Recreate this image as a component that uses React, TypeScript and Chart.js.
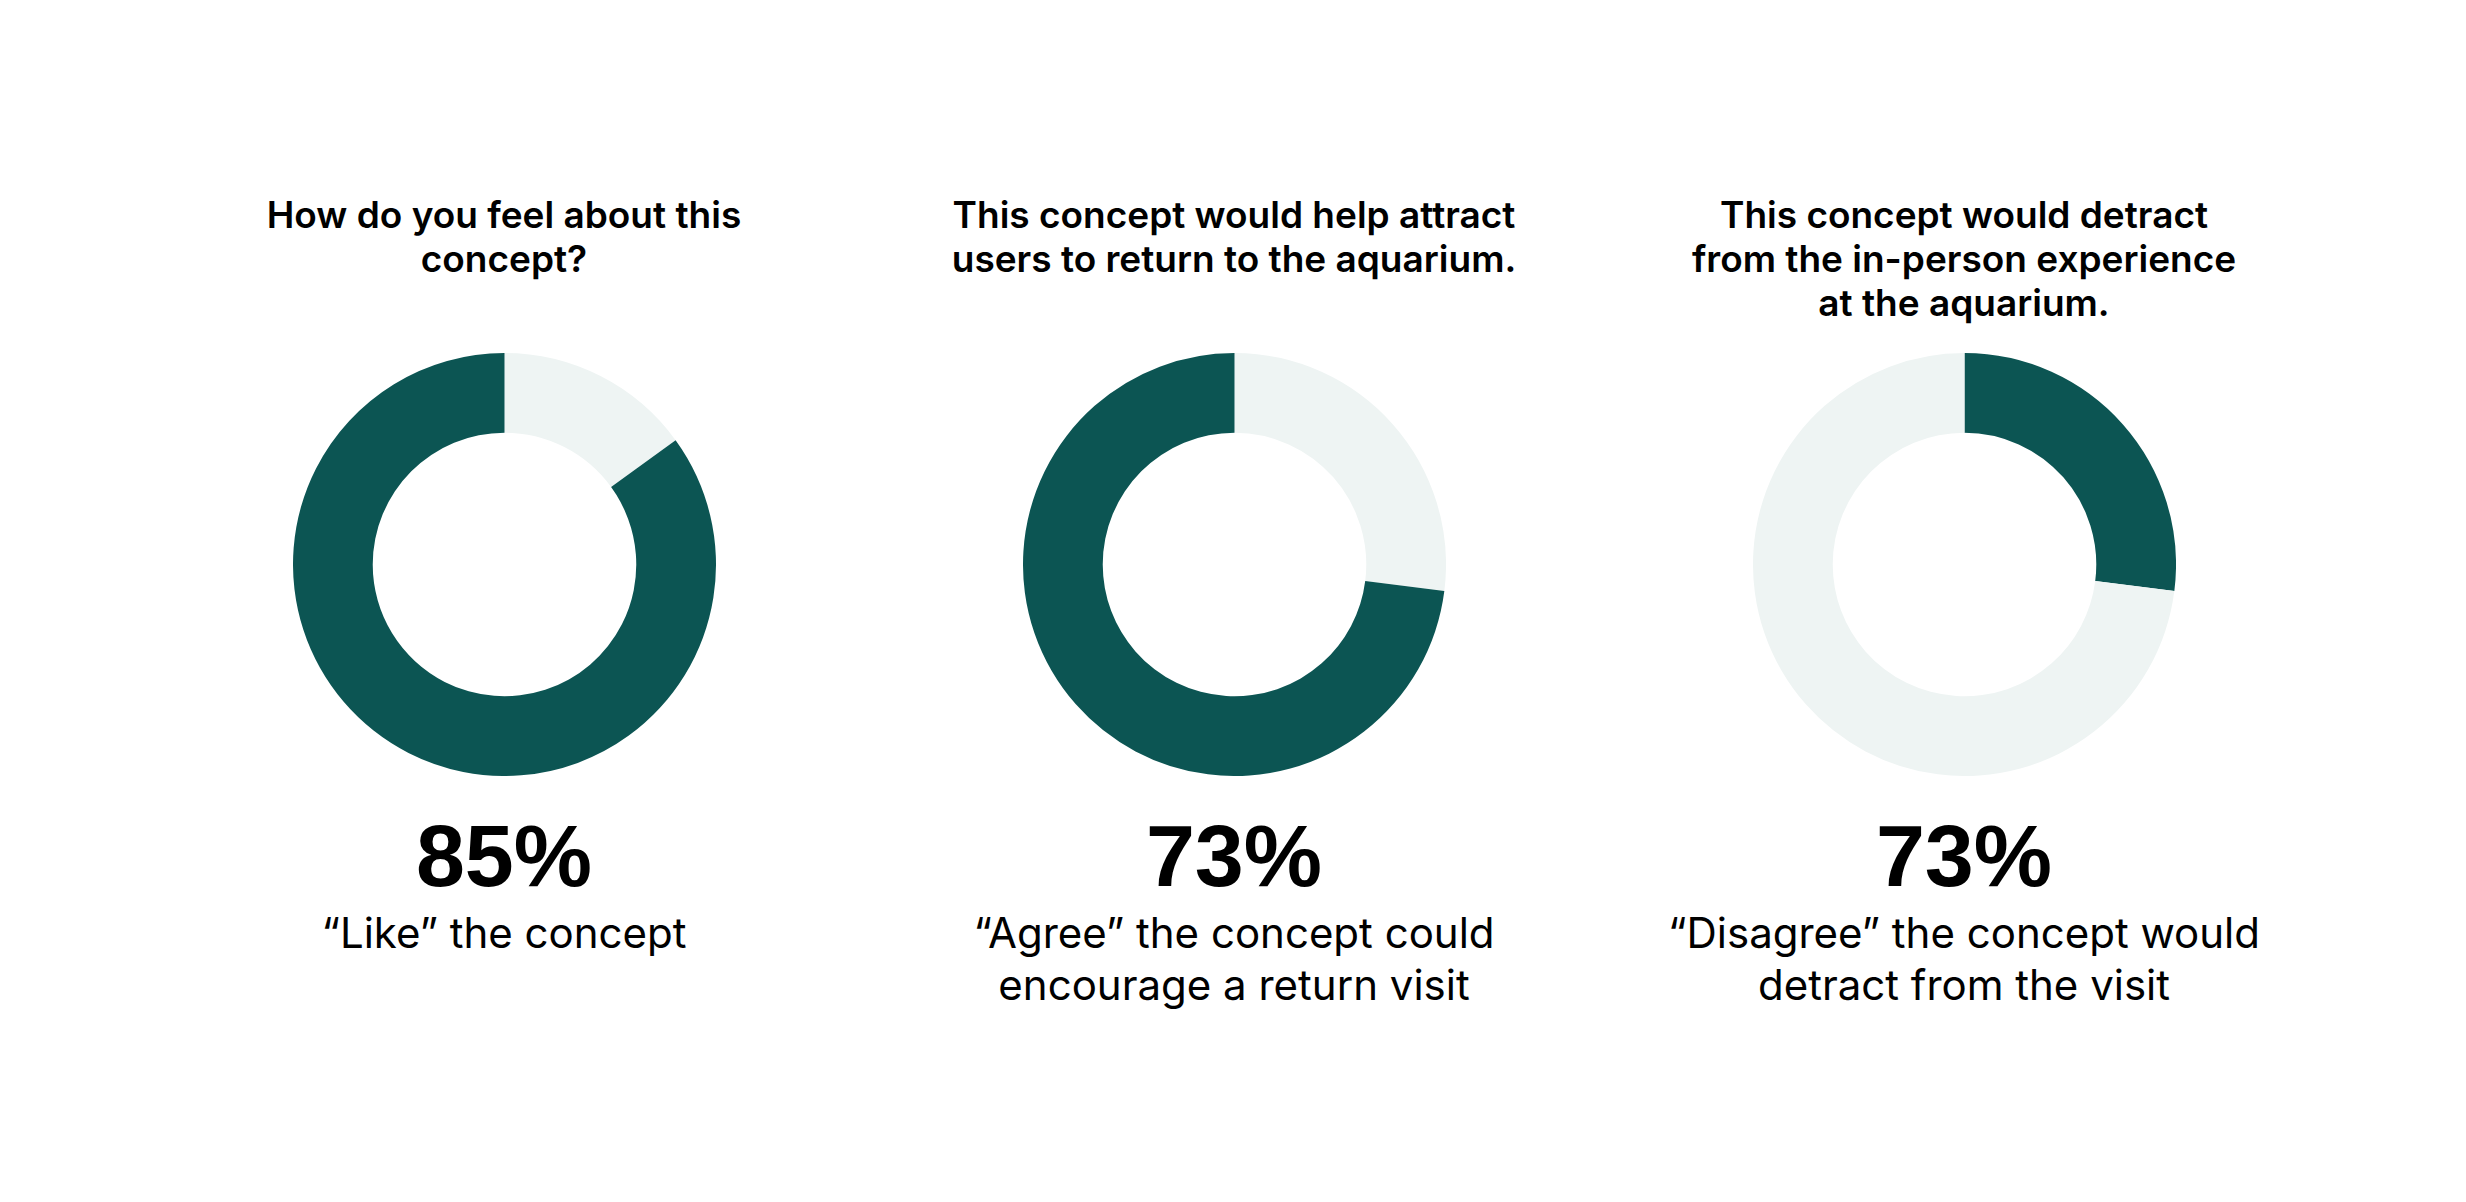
import React, { useEffect, useRef } from "react";
import { Chart, registerables } from "chart.js";

Chart.register(...registerables);

const DARK = "#0c5553";
const LIGHT = "#eef4f3";

const titles: string[][] = [
  ["How do you feel about this", "concept?"],
  ["This concept would help attract", "users to return to the aquarium."],
  ["This concept would detract", "from the in-person experience", "at the aquarium."],
];
const percentLabels = ["85%", "73%", "73%"];
const captions: string[][] = [
  ["\u201CLike\u201D the concept"],
  ["\u201CAgree\u201D the concept could", "encourage a return visit"],
  ["\u201CDisagree\u201D the concept would", "detract from the visit"],
];

const likeLabels = ["Other", "Like"];
const likeValues = [15, 85];
const likeColors = [LIGHT, DARK];

const returnLabels = ["Other", "Agree"];
const returnValues = [27, 73];
const returnColors = [LIGHT, DARK];

const detractLabels = ["Other", "Disagree"];
const detractValues = [27, 73];
const detractColors = [DARK, LIGHT];

const centersX = [504, 1234, 1964];
const CENTER_Y = 564;
const SIZE = 423;

function Donut({ labels, values, colors, cx }: { labels: string[]; values: number[]; colors: string[]; cx: number }) {
  const ref = useRef<HTMLCanvasElement | null>(null);
  useEffect(() => {
    if (!ref.current) return;
    const chart = new Chart(ref.current, {
      type: "doughnut",
      data: {
        labels,
        datasets: [
          {
            data: values,
            backgroundColor: colors,
            borderWidth: 0,
            hoverOffset: 0,
          },
        ],
      },
      options: {
        responsive: false,
        maintainAspectRatio: false,
        animation: false,
        cutout: "62.3%",
        layout: { padding: 0 },
        plugins: {
          legend: { display: false },
          tooltip: { enabled: false },
        },
      },
    });
    return () => chart.destroy();
  }, []);
  return (
    <canvas
      ref={ref}
      width={SIZE}
      height={SIZE}
      style={{
        position: "absolute",
        left: cx - SIZE / 2,
        top: CENTER_Y - SIZE / 2,
        width: SIZE,
        height: SIZE,
      }}
    />
  );
}

const textBase: React.CSSProperties = {
  position: "absolute",
  width: 800,
  textAlign: "center",
  fontFamily: "Inter, 'Noto Sans', sans-serif",
  color: "#000",
  whiteSpace: "nowrap",
};

export default function App() {
  const donuts = [
    { labels: likeLabels, values: likeValues, colors: likeColors },
    { labels: returnLabels, values: returnValues, colors: returnColors },
    { labels: detractLabels, values: detractValues, colors: detractColors },
  ];
  return (
    <div
      style={{
        position: "absolute",
        left: 0,
        top: 0,
        width: 2466,
        height: 1202,
        background: "#fff",
        overflow: "hidden",
      }}
    >
      {donuts.map((d, i) => (
        <React.Fragment key={i}>
          <div
            style={{
              ...textBase,
              left: centersX[i] - 400,
              top: 193,
              fontSize: 37,
              lineHeight: "44px",
              fontWeight: 600,
            }}
          >
            {titles[i].map((t, j) => (
              <div key={j}>{t}</div>
            ))}
          </div>
          <Donut labels={d.labels} values={d.values} colors={d.colors} cx={centersX[i]} />
          <div
            style={{
              ...textBase,
              left: centersX[i] - 400,
              top: 806,
              fontSize: 88,
              lineHeight: "100px",
              fontWeight: 700,
              fontFamily: "'Liberation Sans', Arial, sans-serif",
            }}
          >
            {percentLabels[i]}
          </div>
          <div
            style={{
              ...textBase,
              left: centersX[i] - 400,
              top: 907,
              fontSize: 42,
              lineHeight: "52px",
              fontWeight: 400,
            }}
          >
            {captions[i].map((t, j) => (
              <div key={j}>{t}</div>
            ))}
          </div>
        </React.Fragment>
      ))}
    </div>
  );
}
